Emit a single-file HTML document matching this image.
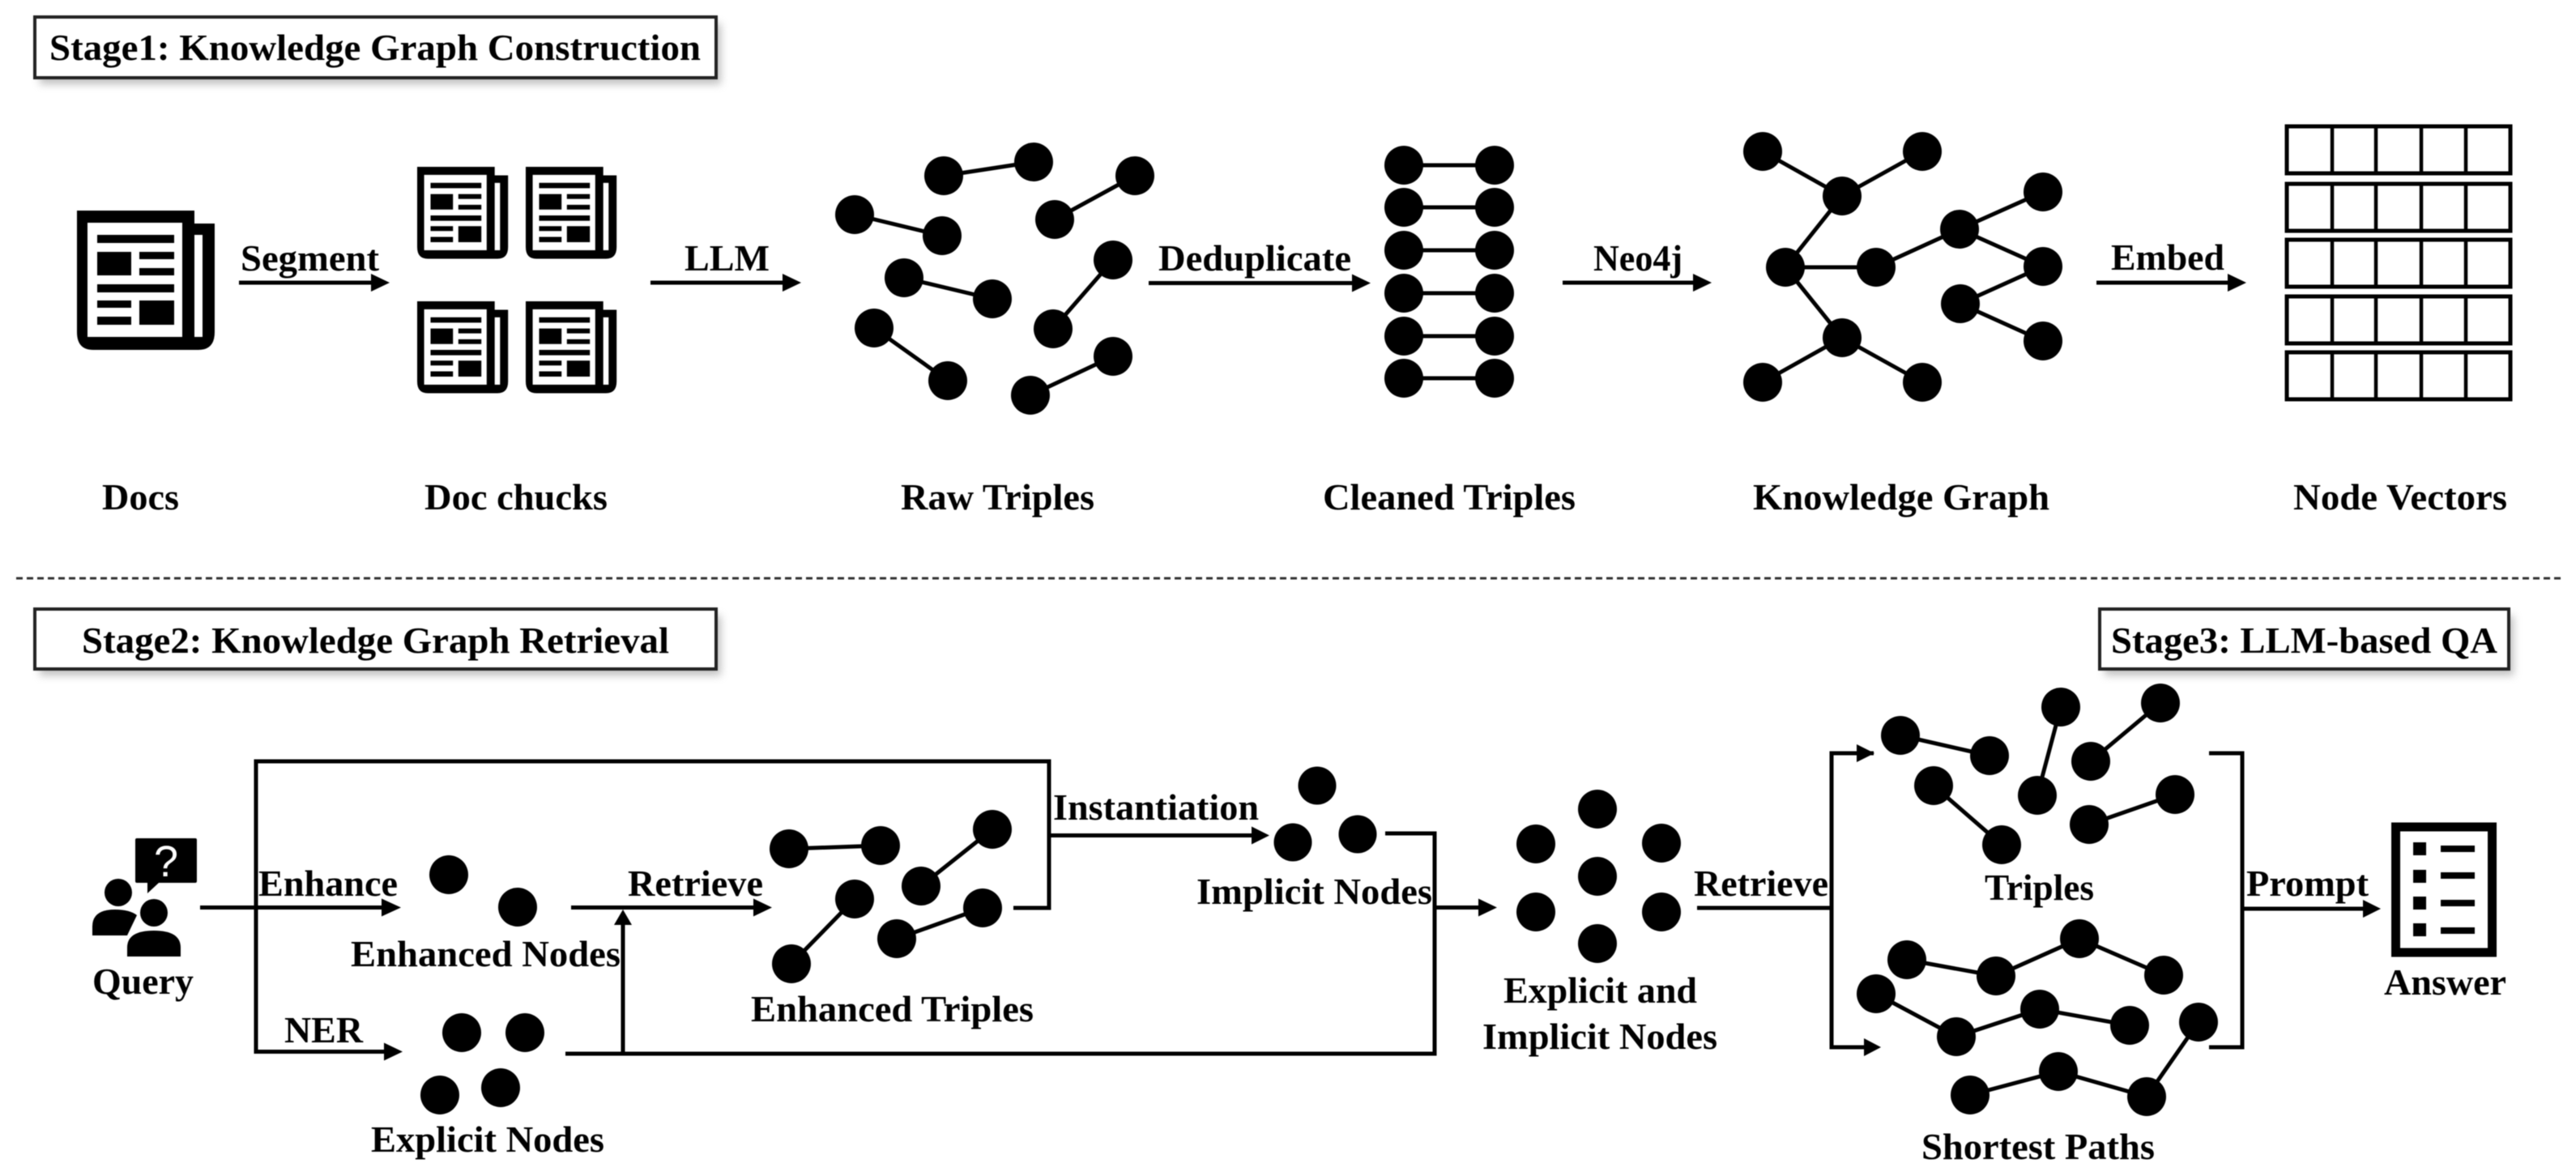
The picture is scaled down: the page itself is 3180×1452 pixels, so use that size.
<!DOCTYPE html>
<html><head><meta charset="utf-8">
<style>html,body{margin:0;padding:0;background:#fff}svg{display:block;filter:blur(.6px)}
text{font-family:"Liberation Serif","Times New Roman",serif;font-weight:700;font-size:46px;fill:#000;transform:translateY(1px)}
.l{stroke:#000;stroke-width:5;fill:none}
.e{stroke:#000;stroke-width:5;fill:none}
</style></head><body>
<svg xmlns="http://www.w3.org/2000/svg" width="3180" height="1452" viewBox="0 0 3180 1452">
<defs>
<filter id="s" x="-5%" y="-30%" width="110%" height="160%"><feGaussianBlur stdDeviation="5"/></filter>
<g id="doc">
<path d="M0 0H145V16H170V150Q170 172 150 172H20Q0 172 0 150Z" fill="#000"/>
<rect x="13" y="15" width="117" height="141" fill="#fff"/><rect x="145" y="30" width="10" height="126" fill="#fff"/>
<path d="M25 30h95v10h-95zM25 51h42v29h-42zM77 51h43v9h-43zM77 71h43v9h-43zM25 91h95v10h-95zM25 111h42v9h-42zM25 131h42v10h-42zM77 111h43v30h-43z" fill="#000"/>
</g>
<g id="r"><rect x="2823" width="276" height="58" fill="#fff" stroke="#000" stroke-width="5"/>
<path d="M2879 0v58M2933 0v58M2989 0v58M3044 0v58" stroke="#000" stroke-width="4.5"/></g>
</defs>

<!-- stage boxes -->
<rect x="49" y="29" width="841" height="75" fill="#999" opacity=".6" filter="url(#s)"/>
<rect x="43" y="21" width="841" height="75" fill="#fff" stroke="#222" stroke-width="4"/>
<text x="61" y="73" textLength="804" lengthAdjust="spacingAndGlyphs">Stage1: Knowledge Graph Construction</text>
<rect x="49" y="760" width="841" height="74" fill="#999" opacity=".6" filter="url(#s)"/>
<rect x="43" y="752" width="841" height="74" fill="#fff" stroke="#222" stroke-width="4"/>
<text x="101" y="805" textLength="725" lengthAdjust="spacingAndGlyphs">Stage2: Knowledge Graph Retrieval</text>
<rect x="2598" y="760" width="505" height="74" fill="#999" opacity=".6" filter="url(#s)"/>
<rect x="2592" y="752" width="505" height="74" fill="#fff" stroke="#222" stroke-width="4"/>
<text x="2606" y="805" textLength="477" lengthAdjust="spacingAndGlyphs">Stage3: LLM-based QA</text>

<!-- docs -->
<use href="#doc" transform="translate(95 260)"/>
<use href="#doc" transform="translate(515 206) scale(.66)"/>
<use href="#doc" transform="translate(649 206) scale(.66)"/>
<use href="#doc" transform="translate(515 372) scale(.66)"/>
<use href="#doc" transform="translate(649 372) scale(.66)"/>

<!-- stage 1 arrows -->
<g fill="#000">
<path class="l" d="M295 349H465M803 349H973M1418 349.500H1676M1929 349H2097M2588 349H2757"/>
<path d="M458 338L481 349L458 360ZM966 338L989 349L966 360ZM1669 338.500L1692 349.500L1669 360.500ZM2090 338L2113 349L2090 360ZM2750 338L2773 349L2750 360Z"/>
</g>
<text x="297" y="333" textLength="171" lengthAdjust="spacingAndGlyphs">Segment</text>
<text x="845" y="333" textLength="105" lengthAdjust="spacingAndGlyphs">LLM</text>
<text x="1430" y="333" textLength="238" lengthAdjust="spacingAndGlyphs">Deduplicate</text>
<text x="1967" y="333" textLength="110" lengthAdjust="spacingAndGlyphs">Neo4j</text>
<text x="2606" y="332" textLength="140" lengthAdjust="spacingAndGlyphs">Embed</text>

<!-- raw triples -->
<path class="e" d="M1165 217L1276 200M1401 217L1302 271M1055 265L1163 291M1374 321L1300 406M1116 343L1225 369M1079 405L1170 470M1374 440L1272 488"/>
<g fill="#000">
<circle cx="1165" cy="217" r="24"/><circle cx="1276" cy="200" r="24"/><circle cx="1401" cy="217" r="24"/><circle cx="1302" cy="271" r="24"/>
<circle cx="1055" cy="265" r="24"/><circle cx="1163" cy="291" r="24"/><circle cx="1374" cy="321" r="24"/><circle cx="1300" cy="406" r="24"/>
<circle cx="1116" cy="343" r="24"/><circle cx="1225" cy="369" r="24"/><circle cx="1079" cy="405" r="24"/><circle cx="1170" cy="470" r="24"/>
<circle cx="1374" cy="440" r="24"/><circle cx="1272" cy="488" r="24"/>
</g>

<!-- cleaned triples -->
<path class="e" d="M1733 204H1845M1733 256H1845M1733 309H1845M1733 362H1845M1733 415H1845M1733 467H1845"/>
<g fill="#000">
<circle cx="1733" cy="204" r="24"/><circle cx="1845" cy="204" r="24"/><circle cx="1733" cy="256" r="24"/><circle cx="1845" cy="256" r="24"/>
<circle cx="1733" cy="309" r="24"/><circle cx="1845" cy="309" r="24"/><circle cx="1733" cy="362" r="24"/><circle cx="1845" cy="362" r="24"/>
<circle cx="1733" cy="415" r="24"/><circle cx="1845" cy="415" r="24"/><circle cx="1733" cy="467" r="24"/><circle cx="1845" cy="467" r="24"/>
</g>

<!-- knowledge graph -->
<path class="e" d="M2176 187L2274 242L2373 187M2274 242L2204 330L2316 330L2419 283L2522 237M2419 283L2522 329L2420 375L2522 421M2204 330L2274 417L2176 472M2274 417L2373 472"/>
<g fill="#000">
<circle cx="2176" cy="187" r="24"/><circle cx="2373" cy="187" r="24"/><circle cx="2274" cy="242" r="24"/><circle cx="2204" cy="330" r="24"/>
<circle cx="2316" cy="330" r="24"/><circle cx="2419" cy="283" r="24"/><circle cx="2522" cy="237" r="24"/><circle cx="2522" cy="329" r="24"/>
<circle cx="2420" cy="375" r="24"/><circle cx="2522" cy="421" r="24"/><circle cx="2274" cy="417" r="24"/><circle cx="2176" cy="472" r="24"/><circle cx="2373" cy="472" r="24"/>
</g>

<!-- node vectors -->
<use href="#r" y="156"/><use href="#r" y="227"/><use href="#r" y="296"/><use href="#r" y="366"/><use href="#r" y="435"/>

<!-- stage 1 labels -->
<text x="126" y="628" textLength="95" lengthAdjust="spacingAndGlyphs">Docs</text>
<text x="524" y="628" textLength="226" lengthAdjust="spacingAndGlyphs">Doc chucks</text>
<text x="1112" y="628" textLength="239" lengthAdjust="spacingAndGlyphs">Raw Triples</text>
<text x="1633" y="628" textLength="312" lengthAdjust="spacingAndGlyphs">Cleaned Triples</text>
<text x="2164" y="628" textLength="366" lengthAdjust="spacingAndGlyphs">Knowledge Graph</text>
<text x="2831" y="628" textLength="264" lengthAdjust="spacingAndGlyphs">Node Vectors</text>

<!-- divider -->
<path d="M20 714H3165" stroke="#333" stroke-width="3" stroke-dasharray="8 5" fill="none"/>

<!-- query icon -->
<path d="M167 1037Q167 1035 169 1035H241Q243 1035 243 1037V1088Q243 1090 241 1090H196L182 1103V1090H169Q167 1090 167 1088Z" fill="#000"/>
<text x="205" y="1081" text-anchor="middle" style="font-size:54px;font-weight:400;fill:#fff;font-family:'Liberation Sans',sans-serif">?</text>
<ellipse cx="146" cy="1102" rx="17" ry="17" fill="#000"/>
<path d="M114 1155V1144Q114 1123 142 1123Q160 1123 169 1130L157 1155Z" fill="#000"/>
<ellipse cx="190" cy="1127" rx="17" ry="17" fill="#000"/>
<path d="M157 1181V1170Q157 1149 190 1149Q223 1149 223 1170V1181Z" fill="#000"/>
<text x="114" y="1226" textLength="125" lengthAdjust="spacingAndGlyphs">Query</text>

<!-- stage 2 connectors -->
<path class="l" d="M247 1120.500H478M316 1120.500V940H1295V1121H1251M316 1120.500V1298.500H481M705 1120.500H937M698 1301H1771V1029H1710M769 1301V1138M1296 1031.500H1551M1772 1120.500H1832"/>
<path d="M471 1109.500L495 1120.500L471 1131.500ZM474 1287.500L497 1298.500L474 1309.500ZM930 1109.500L953 1120.500L930 1131.500ZM758 1142L769 1123L780 1142ZM1545 1020.500L1567 1031.500L1545 1042.500ZM1825 1109.500L1848 1120.500L1825 1131.500Z" fill="#000"/>
<text x="319" y="1105" textLength="172" lengthAdjust="spacingAndGlyphs">Enhance</text>
<text x="351" y="1286" textLength="97" lengthAdjust="spacingAndGlyphs">NER</text>
<text x="775" y="1105" textLength="167" lengthAdjust="spacingAndGlyphs">Retrieve</text>
<text x="1300" y="1011" textLength="254" lengthAdjust="spacingAndGlyphs">Instantiation</text>

<!-- stage 2 nodes -->
<g fill="#000">
<circle cx="554" cy="1080" r="24"/><circle cx="639" cy="1120" r="24"/>
<circle cx="570" cy="1275" r="24"/><circle cx="648" cy="1275" r="24"/><circle cx="543" cy="1352" r="24"/><circle cx="618" cy="1343" r="24"/>
<circle cx="1626" cy="970" r="23.500"/><circle cx="1596" cy="1040" r="23.500"/><circle cx="1676" cy="1030" r="23.500"/>
<circle cx="1972" cy="999" r="24"/><circle cx="1896" cy="1042" r="24"/><circle cx="2051" cy="1041" r="24"/><circle cx="1972" cy="1082" r="24"/>
<circle cx="1896" cy="1126" r="24"/><circle cx="2051" cy="1126" r="24"/><circle cx="1972" cy="1165" r="24"/>
</g>
<text x="433" y="1192" textLength="333" lengthAdjust="spacingAndGlyphs">Enhanced Nodes</text>
<text x="458" y="1421" textLength="288" lengthAdjust="spacingAndGlyphs">Explicit Nodes</text>
<text x="1477" y="1115" textLength="291" lengthAdjust="spacingAndGlyphs">Implicit Nodes</text>
<text x="1856" y="1237" textLength="239" lengthAdjust="spacingAndGlyphs">Explicit and</text>
<text x="1830" y="1294" textLength="290" lengthAdjust="spacingAndGlyphs">Implicit Nodes</text>

<!-- enhanced triples -->
<path class="e" d="M974 1048L1087 1044M1225 1024L1137 1094M1055 1110L977 1190M1213 1121L1107 1159"/>
<g fill="#000">
<circle cx="974" cy="1048" r="24"/><circle cx="1087" cy="1044" r="24"/><circle cx="1225" cy="1024" r="24"/><circle cx="1137" cy="1094" r="24"/>
<circle cx="1055" cy="1110" r="24"/><circle cx="977" cy="1190" r="24"/><circle cx="1213" cy="1121" r="24"/><circle cx="1107" cy="1159" r="24"/>
</g>
<text x="927" y="1260" textLength="349" lengthAdjust="spacingAndGlyphs">Enhanced Triples</text>

<!-- stage 3 connectors -->
<path class="l" d="M2095 1121H2261M2313 930H2261V1293H2306M2727 930H2768V1293H2727M2768 1122H2924"/>
<path d="M2292 919L2314 930L2292 941ZM2301 1282L2322 1293L2301 1304ZM2917 1111L2939 1122L2917 1133Z" fill="#000"/>
<text x="2091" y="1105" textLength="166" lengthAdjust="spacingAndGlyphs">Retrieve</text>
<text x="2773" y="1105" textLength="151" lengthAdjust="spacingAndGlyphs">Prompt</text>

<!-- triples -->
<path class="e" d="M2346 908L2456 933M2544 873L2515 982M2667 868L2581 940M2387 970L2471 1043M2685 981L2579 1018"/>
<g fill="#000">
<circle cx="2346" cy="908" r="24"/><circle cx="2456" cy="933" r="24"/><circle cx="2544" cy="873" r="24"/><circle cx="2515" cy="982" r="24"/>
<circle cx="2667" cy="868" r="24"/><circle cx="2581" cy="940" r="24"/><circle cx="2387" cy="970" r="24"/><circle cx="2471" cy="1043" r="24"/>
<circle cx="2685" cy="981" r="24"/><circle cx="2579" cy="1018" r="24"/>
</g>
<text x="2450" y="1110" textLength="135" lengthAdjust="spacingAndGlyphs">Triples</text>

<!-- paths -->
<path class="e" d="M2354 1185L2464 1205L2567 1159L2671 1204M2316 1227L2415 1280L2518 1246L2629 1266M2432 1352L2541 1323L2650 1354L2714 1262"/>
<g fill="#000">
<circle cx="2354" cy="1185" r="24"/><circle cx="2464" cy="1205" r="24"/><circle cx="2567" cy="1159" r="24"/><circle cx="2671" cy="1204" r="24"/>
<circle cx="2316" cy="1227" r="24"/><circle cx="2415" cy="1280" r="24"/><circle cx="2518" cy="1246" r="24"/><circle cx="2629" cy="1266" r="24"/>
<circle cx="2432" cy="1352" r="24"/><circle cx="2541" cy="1323" r="24"/><circle cx="2650" cy="1354" r="24"/><circle cx="2714" cy="1262" r="24"/>
</g>
<text x="2372" y="1430" textLength="288" lengthAdjust="spacingAndGlyphs">Shortest Paths</text>

<!-- answer icon -->
<rect x="2957.500" y="1021" width="119" height="155" fill="#fff" stroke="#000" stroke-width="11"/>
<path d="M2979 1040h16v16h-16zM2979 1074h16v16h-16zM2979 1107h16v16h-16zM2979 1140h16v16h-16zM3013 1044h42v8h-42zM3013 1077h42v8h-42zM3013 1111h42v8h-42zM3013 1145h42v8h-42z" fill="#000"/>
<text x="2943" y="1227" textLength="151" lengthAdjust="spacingAndGlyphs">Answer</text>
</svg>
</body></html>
